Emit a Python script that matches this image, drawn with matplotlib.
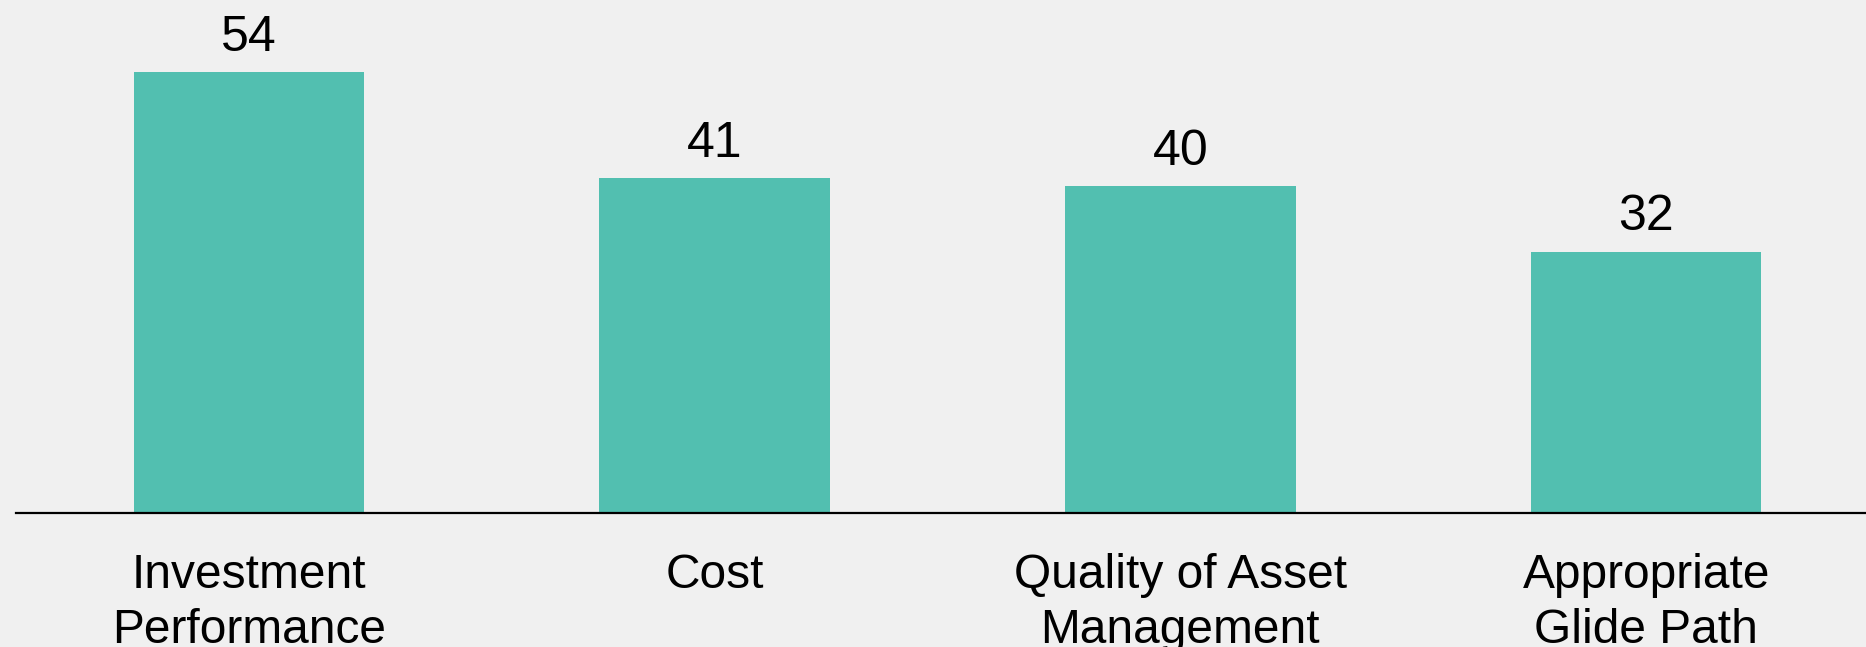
import matplotlib
matplotlib.use("Agg")
import matplotlib.pyplot as plt

categories = ["Investment\nPerformance", "Cost", "Quality of Asset\nManagement", "Appropriate\nGlide Path"]
values = [54, 41, 40, 32]

bg = "#f0f0f0"
bar_color = "#52bfb0"

plt.rcParams['font.family'] = ['Liberation Sans', 'DejaVu Sans']

fig = plt.figure(figsize=(18.66, 6.47), dpi=100, facecolor=bg)
ax = fig.add_axes([16/1866, 1 - 513/647, 1 - 16/1866, 513/647])
ax.set_facecolor(bg)

x = list(range(len(categories)))
bars = ax.bar(x, values, width=0.495, color=bar_color, linewidth=0, zorder=2)
ax.bar_label(bars, labels=[str(v) for v in values], padding=8, fontsize=36, color="black")

ax.set_xlim(-0.5, 3.472)
ax.set_ylim(0, 62.8)
for s in ["top", "right", "left"]:
    ax.spines[s].set_visible(False)
ax.spines["bottom"].set_linewidth(1.6)
ax.spines["bottom"].set_color("black")
ax.spines["bottom"].set_zorder(3)
ax.set_yticks([])
ax.set_xticks(x)
ax.set_xticklabels(categories, fontsize=34.5, linespacing=1.27)
ax.tick_params(axis="x", length=0, pad=29)

fig.savefig("out.png", dpi=100, facecolor=bg)
